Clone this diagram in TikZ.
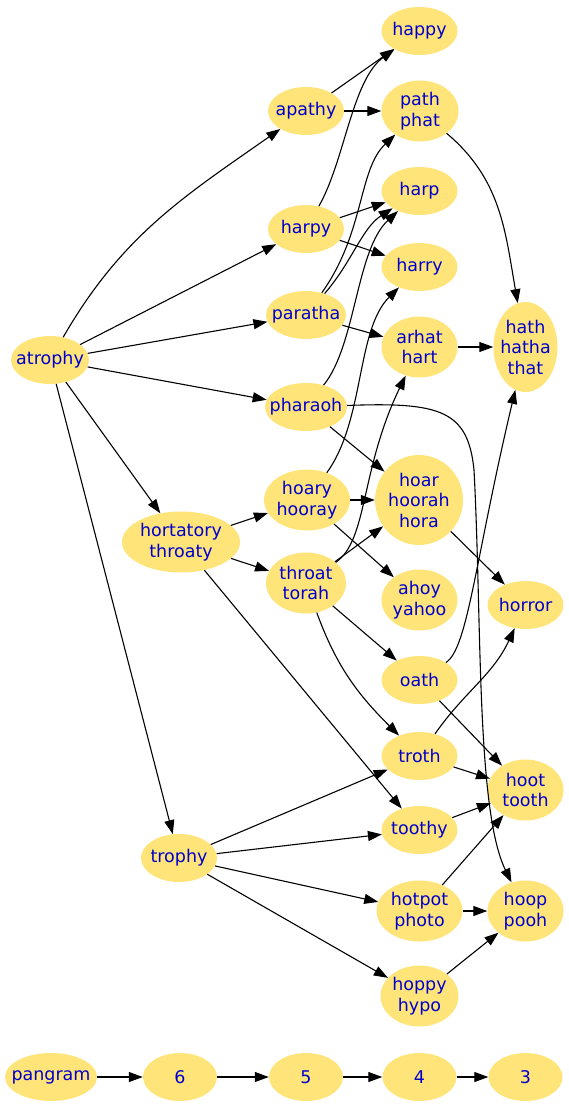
\documentclass[tikz,border=0pt]{standalone}
\usepackage{fontspec}
\setmainfont{DejaVu Sans}
\usepackage{xcolor}
\usetikzlibrary{shapes.geometric, arrows.meta}

\definecolor{wordfill}{RGB}{255,228,122}
\definecolor{wordblue}{RGB}{0,0,205}

\tikzset{
  word/.style={ellipse, fill=wordfill, inner sep=0pt, minimum width=76pt, minimum height=48pt},
  two/.style={minimum height=61pt},
  three/.style={minimum height=90pt},
  wtext/.style={text=wordblue, align=center, inner sep=0pt, font=\fontsize{17.5}{20.5}\selectfont},
  arc/.style={-{Triangle[length=14pt,width=10pt]}, line width=1.1pt},
}

\begin{document}
\begin{tikzpicture}[x=1pt, y=1pt]
\useasboundingbox (0,0) rectangle (569,-1107);

% words
\node[word, minimum width=78pt, label={[wtext]center:atrophy}] (atrophy) at (50,-360) {};
\node[word, two, minimum width=118pt, label={[wtext]center:hortatory\\throaty}] (hortatory) at (181,-542) {};
\node[word, label={[wtext]center:trophy}] (trophy) at (179,-858) {};
\node[word, label={[wtext]center:apathy}] (apathy) at (306,-111) {};
\node[word, label={[wtext]center:harpy}] (harpy) at (306,-229) {};
\node[word, minimum width=80pt, label={[wtext]center:paratha}] (paratha) at (306,-315) {};
\node[word, minimum width=82pt, label={[wtext]center:pharaoh}] (pharaoh) at (306,-407) {};
\node[word, two, minimum width=86pt, label={[wtext]center:hoary\\hooray}] (hoary) at (307,-500) {};
\node[word, two, minimum width=80pt, label={[wtext]center:throat\\torah}] (throat) at (306,-583) {};
\node[word, label={[wtext]center:happy}] (happy) at (419.5,-31) {};
\node[word, two, minimum width=77pt, label={[wtext]center:path\\phat}] (path) at (420,-111) {};
\node[word, label={[wtext]center:harp}] (harp) at (419.5,-191) {};
\node[word, label={[wtext]center:harry}] (harry) at (419.5,-267) {};
\node[word, two, label={[wtext]center:arhat\\hart}] (arhat) at (419.5,-347) {};
\node[word, three, minimum width=88pt, label={[wtext]center:hoar\\hoorah\\hora}] (hoar) at (419,-500) {};
\node[word, two, label={[wtext]center:ahoy\\yahoo}] (ahoy) at (419.5,-600) {};
\node[word, label={[wtext]center:oath}] (oath) at (419.5,-680) {};
\node[word, label={[wtext]center:troth}] (troth) at (419.5,-756) {};
\node[word, label={[wtext]center:toothy}] (toothy) at (419.5,-830) {};
\node[word, two, minimum width=86pt, label={[wtext]center:hotpot\\photo}] (hotpot) at (419.5,-911) {};
\node[word, two, minimum width=78pt, label={[wtext]center:hoppy\\hypo}] (hoppy) at (419.5,-996) {};
\node[word, three, minimum width=64pt, label={[wtext]center:hath\\hatha\\that}] (hath) at (525.5,-347) {};
\node[word, label={[wtext]center:horror}] (horror) at (525.5,-605) {};
\node[word, two, label={[wtext]center:hoot\\tooth}] (hoot) at (525.5,-790) {};
\node[word, two, label={[wtext]center:hoop\\pooh}] (hoop) at (525.5,-911) {};

% ranks
\node[word, minimum width=92pt, label={[wtext]center:pangram}] (pangram) at (51,-1077) {};
\node[word, minimum width=74pt, label={[wtext]center:6}] (r6) at (180,-1077) {};
\node[word, minimum width=74pt, label={[wtext]center:5}] (r5) at (306,-1077) {};
\node[word, minimum width=74pt, label={[wtext]center:4}] (r4) at (419.5,-1077) {};
\node[word, minimum width=74pt, label={[wtext]center:3}] (r3) at (525.5,-1077) {};

% edges
\draw[arc] (atrophy) to[out=60,in=215] (apathy);
\draw[arc] (atrophy) -- (harpy);
\draw[arc] (atrophy) -- (paratha);
\draw[arc] (atrophy) -- (pharaoh);
\draw[arc] (atrophy) -- (hortatory);
\draw[arc] (atrophy) -- (trophy);
\draw[arc] (apathy) -- (happy);
\draw[arc] (apathy) -- (path);
\draw[arc] (harpy) .. controls (345,-160) and (352,-80) .. (happy);
\draw[arc] (harpy) -- (harp);
\draw[arc] (harpy) -- (harry);
\draw[arc] (paratha) .. controls (365,-232) and (358,-170) .. (path);
\draw[arc] (paratha) .. controls (352,-262) and (362,-228) .. (harp);
\draw[arc] (paratha) -- (arhat);
\draw[arc] (pharaoh) .. controls (356,-345) and (356,-250) .. (harp);
\draw[arc] (pharaoh) -- (hoar);
\draw[arc] (pharaoh) .. controls (440,-402) and (468,-410) .. (474,-470)
  .. controls (482,-620) and (476,-810) .. (hoop);
\draw[arc] (path) to[out=-40,in=100] (hath);
\draw[arc] (arhat) -- (hath);
\draw[arc] (hortatory) -- (hoary);
\draw[arc] (hortatory) -- (throat);
\draw[arc] (hortatory) -- (toothy);
\draw[arc] (hoary) .. controls (365,-420) and (356,-330) .. (harry);
\draw[arc] (hoary) -- (hoar);
\draw[arc] (hoary) -- (ahoy);
\draw[arc] (throat) .. controls (368,-540) and (360,-470) .. (arhat);
\draw[arc] (throat) -- (hoar);
\draw[arc] (throat) -- (oath);
\draw[arc] (throat) to[out=-70,in=135] (troth);
\draw[arc] (hoar) -- (horror);
\draw[arc] (oath) .. controls (468,-648) and (475,-560) .. (hath);
\draw[arc] (oath) -- (hoot);
\draw[arc] (troth) to[out=55,in=245] (horror);
\draw[arc] (troth) -- (hoot);
\draw[arc] (toothy) -- (hoot);
\draw[arc] (trophy) -- (troth);
\draw[arc] (trophy) -- (toothy);
\draw[arc] (trophy) -- (hotpot);
\draw[arc] (trophy) -- (hoppy);
\draw[arc] (hotpot) -- (hoot);
\draw[arc] (hotpot) -- (hoop);
\draw[arc] (hoppy) -- (hoop);
\draw[arc] (pangram) -- (r6);
\draw[arc] (r6) -- (r5);
\draw[arc] (r5) -- (r4);
\draw[arc] (r4) -- (r3);
\end{tikzpicture}
\end{document}
